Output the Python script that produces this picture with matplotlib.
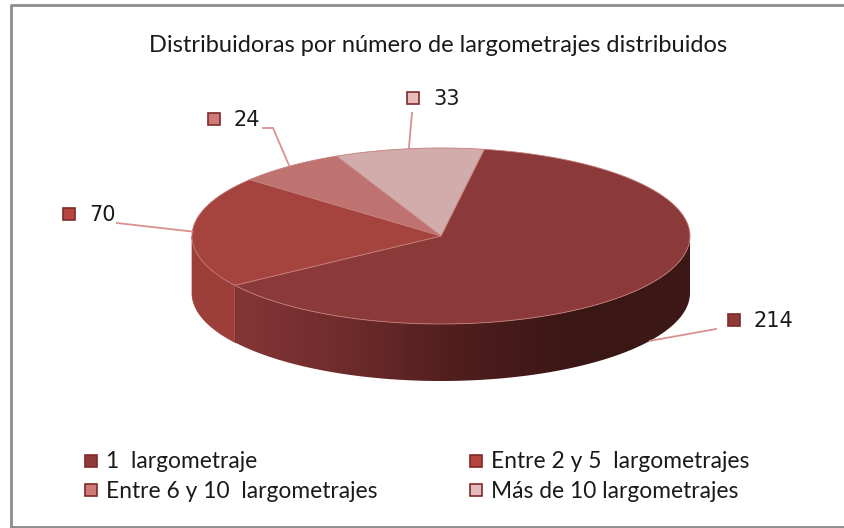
import numpy as np
import matplotlib
matplotlib.use("Agg")
import matplotlib.pyplot as plt
from matplotlib.patches import Polygon, Rectangle
from matplotlib.colors import LinearSegmentedColormap

# data
labels = ["1  largometraje", "Entre 2 y 5  largometrajes",
          "Entre 6 y 10  largometrajes", "Más de 10 largometrajes"]
values = [214, 70, 24, 33]
top_colors = ["#8B3939", "#A5443F", "#BE7370", "#D1ACAB"]
side_colors = ["#7F3333", "#9C3E3A", "#B06966", "#C29E9D"]
legend_colors = ["#8E3A3A", "#B8443F", "#D07A77", "#E5BCBB"]
edge_dark = "#7E2A2A"
title = "Distribuidoras por número de largometrajes distribuidos"

# geometry (pixels)
W, H = 845, 528
cx, cy, ra, rb, depth = 441, 236, 249, 88, 57
start = 10.0  # first slice starts this many degrees clockwise from 12 o'clock

fig = plt.figure(figsize=(W / 100, H / 100), dpi=100)
ax = fig.add_axes([0, 0, 1, 1])
ax.set_xlim(0, W)
ax.set_ylim(H, 0)
ax.axis("off")

# chart frame
ax.plot([11, 11, W + 5], [H + 5, 5, 5], color="#8C8C8C", lw=2, solid_capstyle="butt")
ax.plot([11, W + 5], [527, 527], color="#8C8C8C", lw=2)

def pt(theta, dz=0.0):
    t = np.radians(theta)
    return cx + ra * np.sin(t), cy - rb * np.cos(t) + dz

fracs = np.array(values) / sum(values)
bounds = start + np.concatenate([[0], np.cumsum(fracs) * 360])

side_cmap = LinearSegmentedColormap.from_list(
    "side", ["#843636", "#6E2B2B", "#4E1D1C", "#3A1715", "#3C1816"])

# side walls (front part, 90..270 deg)
for i, v in enumerate(values):
    a0, a1 = bounds[i], bounds[i + 1]
    for off in (0, 360, -360):
        lo, hi = max(a0 + off, 90), min(a1 + off, 270)
        if hi <= lo:
            continue
        th = np.linspace(lo, hi, 200)
        xs, ys = pt(th)
        poly = list(zip(xs, ys)) + list(zip(xs[::-1], ys[::-1] + depth))
        if i == 0:
            patch = Polygon(poly, closed=True, facecolor="none", edgecolor="none")
            ax.add_patch(patch)
            grad = np.linspace(0, 1, 256).reshape(1, -1)
            x_left, x_right = xs.min(), xs.max()
            im = ax.imshow(grad, cmap=side_cmap, aspect="auto",
                           extent=(x_left, x_right, ys.max() + depth + 2, ys.min() - 2),
                           zorder=1, interpolation="bilinear")
            im.set_clip_path(patch)
            ax.set_xlim(0, W)
            ax.set_ylim(H, 0)
        else:
            ax.add_patch(Polygon(poly, closed=True, facecolor=side_colors[i],
                                 edgecolor=side_colors[i], lw=0.5, zorder=1))
        if 90 < lo < 270:
            x, y = pt(lo)
            ax.plot([x, x], [y, y + depth], color="#7A3030", lw=0.7, zorder=2)

# top faces
for i, v in enumerate(values):
    th = np.linspace(bounds[i], bounds[i + 1], 120)
    xs, ys = pt(th)
    poly = [(cx, cy)] + list(zip(xs, ys))
    ax.add_patch(Polygon(poly, closed=True, facecolor=top_colors[i],
                         edgecolor="#C57C7A", lw=0.6, zorder=3))

# data labels with leader lines
lab_pos = [(734, 320), (69, 214), (214, 119), (413, 98)]
leader = [
    [(716, 329)],
    [(117, 223)],
    [(263, 128), (273, 128)],
    [(412, 113)],
]
for i, v in enumerate(values):
    mid = (bounds[i] + bounds[i + 1]) / 2
    dz = depth if np.cos(np.radians(mid)) < 0 else 0
    ex, ey = pt(mid, dz)
    pts = leader[i] + [(ex, ey)]
    ax.plot([p[0] for p in pts], [p[1] for p in pts], color="#D9918F", lw=1.3, zorder=4)
    sx, sy = lab_pos[i]
    ax.add_patch(Rectangle((sx - 6, sy - 6), 12, 12, facecolor=legend_colors[i],
                           edgecolor=edge_dark, lw=1.2, zorder=4))
    ax.text(sx + 20, sy + 1, str(v), fontsize=15, ha="left", va="center",
            color="#1A1A1A", family="DejaVu Sans")

# title
ax.text(438, 45, title, fontsize=17, ha="center", va="center", family="Lato", color="#1A1A1A")

# legend
leg_pos = [(91, 461), (476, 461), (91, 490), (476, 490)]
for i, lab in enumerate(labels):
    lx, ly = leg_pos[i]
    ax.add_patch(Rectangle((lx - 6, ly - 6), 12, 12, facecolor=legend_colors[i],
                           edgecolor=edge_dark, lw=1.2))
    ax.text(lx + 15, ly + 1, lab, fontsize=16.4, ha="left", va="center",
            family="Lato", color="#1A1A1A")

fig.savefig("out.png", dpi=100)
